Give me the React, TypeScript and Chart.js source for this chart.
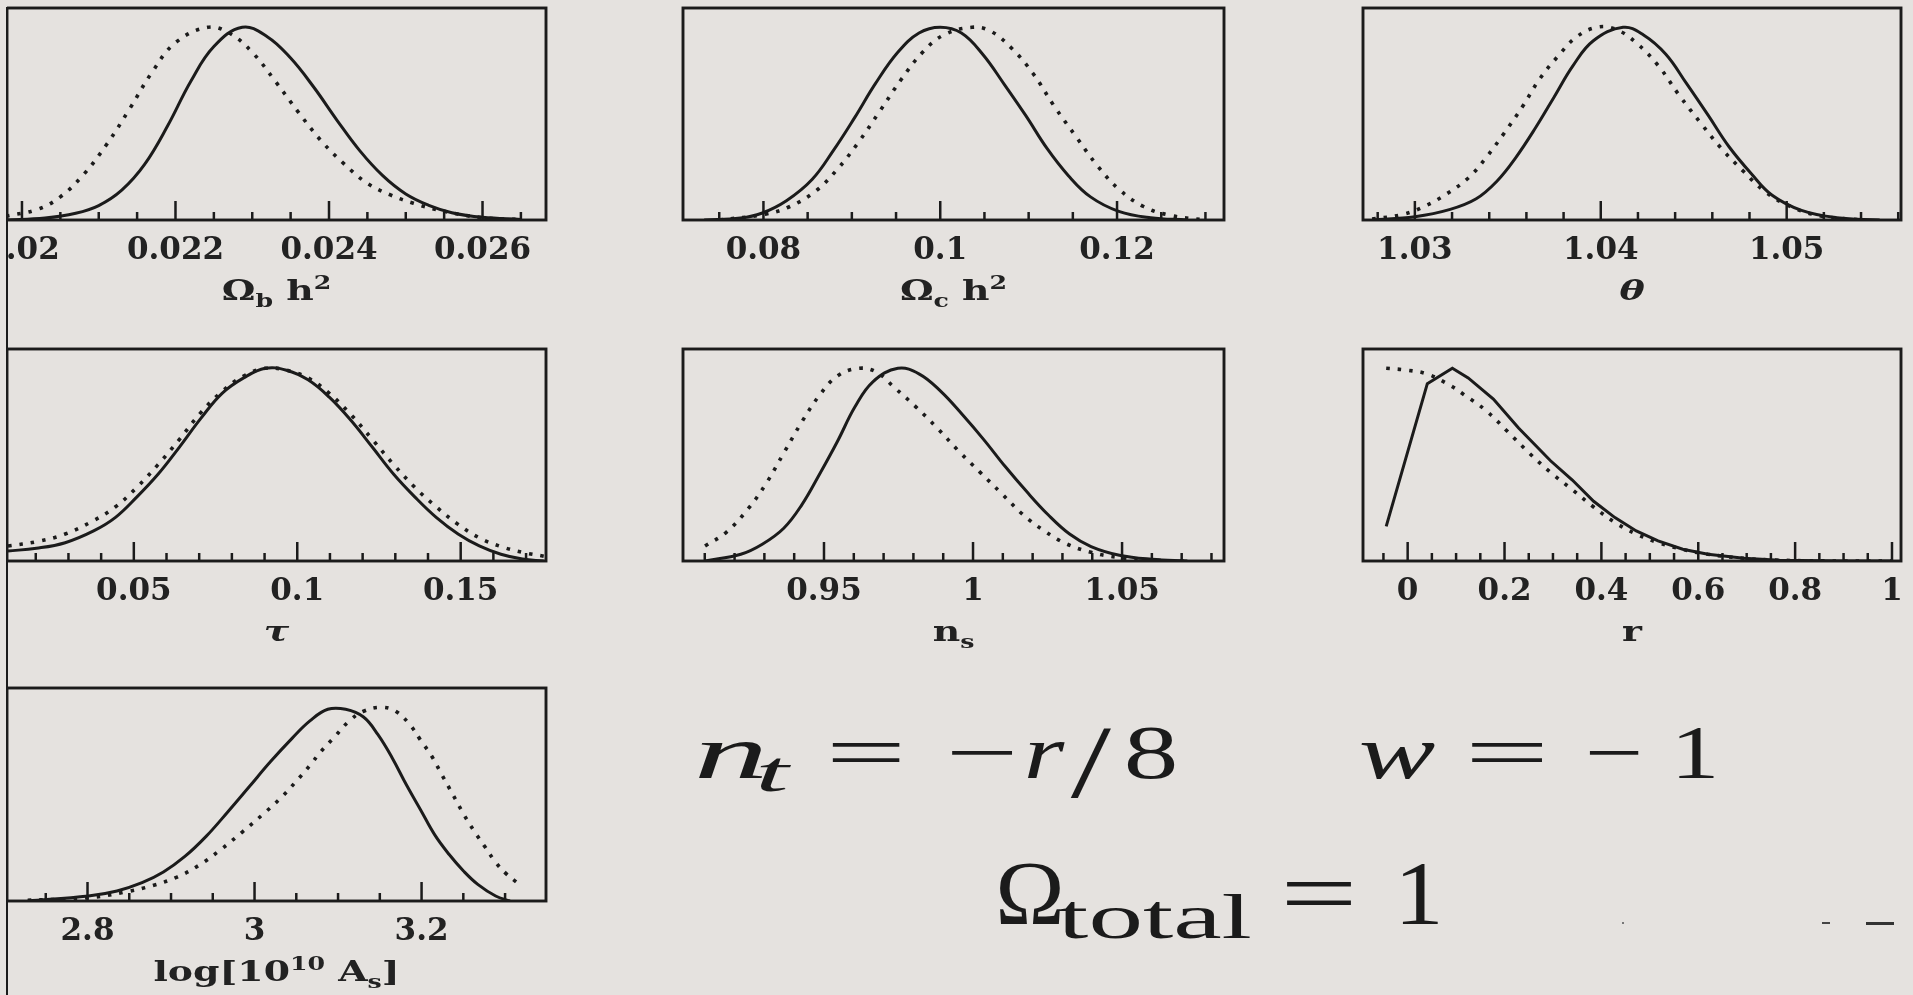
import React, { useEffect, useRef } from "react";
import { Chart, registerables } from "chart.js";

Chart.register(...registerables);

const INK = "#1b1b1b";
const LABEL_INK = "#222222";
const PAPER = "rgb(229,226,223)";

// ---------- Ω_b h² ----------
const baryonSolidX = [0.01979, 0.0203, 0.0207, 0.021, 0.0213, 0.0216, 0.0219, 0.0222, 0.0225, 0.02287, 0.0232, 0.0235, 0.0238, 0.0241, 0.0244, 0.0247, 0.025, 0.0253, 0.0256, 0.026, 0.0265];
const baryonSolidY = [0, 0.01, 0.035, 0.075, 0.155, 0.29, 0.49, 0.72, 0.9, 1.0, 0.95, 0.84, 0.69, 0.52, 0.36, 0.23, 0.135, 0.076, 0.038, 0.014, 0.003];
const baryonDottedX = [0.01979, 0.0202, 0.0205, 0.0208, 0.0211, 0.0214, 0.0217, 0.022, 0.02242, 0.0227, 0.023, 0.0233, 0.0236, 0.0239, 0.0242, 0.0245, 0.0248, 0.0251, 0.0255, 0.026, 0.0265];
const baryonDottedY = [0.02, 0.055, 0.12, 0.235, 0.39, 0.575, 0.77, 0.92, 1.0, 0.97, 0.87, 0.72, 0.56, 0.41, 0.29, 0.19, 0.13, 0.087, 0.045, 0.012, 0.002];
const baryonTicks = [0.02, 0.022, 0.024, 0.026];
const baryonLabels = ["0.02", "0.022", "0.024", "0.026"];

// ---------- Ω_c h² ----------
const cdmSolidX = [0.0733, 0.0774, 0.0798, 0.0826, 0.0855, 0.0879, 0.0903, 0.0927, 0.0952, 0.0976, 0.1, 0.1024, 0.1048, 0.1073, 0.1097, 0.1121, 0.1145, 0.117, 0.1202, 0.1238, 0.1279];
const cdmSolidY = [0, 0.01, 0.035, 0.1, 0.21, 0.36, 0.53, 0.71, 0.87, 0.97, 1.0, 0.97, 0.86, 0.7, 0.54, 0.37, 0.23, 0.12, 0.045, 0.012, 0];
const cdmDottedX = [0.075, 0.0802, 0.083, 0.0859, 0.0883, 0.0907, 0.0931, 0.0956, 0.098, 0.1004, 0.1036, 0.1057, 0.1081, 0.1105, 0.1129, 0.1154, 0.1178, 0.1202, 0.123, 0.1259, 0.1299];
const cdmDottedY = [0, 0.03, 0.07, 0.15, 0.26, 0.4, 0.56, 0.73, 0.87, 0.96, 1.0, 0.98, 0.89, 0.76, 0.59, 0.43, 0.28, 0.16, 0.07, 0.025, 0];
const cdmTicks = [0.08, 0.1, 0.12];
const cdmLabels = ["0.08", "0.1", "0.12"];

// ---------- θ ----------
const thetaSolidX = [1.0277, 1.03, 1.0319, 1.0333, 1.0344, 1.0354, 1.0365, 1.0375, 1.0385, 1.0396, 1.0412, 1.0423, 1.0435, 1.0446, 1.0458, 1.0469, 1.0481, 1.0492, 1.0508, 1.0527, 1.055];
const thetaSolidY = [0, 0.017, 0.055, 0.11, 0.2, 0.32, 0.48, 0.64, 0.8, 0.93, 1.0, 0.96, 0.86, 0.71, 0.54, 0.38, 0.24, 0.13, 0.05, 0.012, 0];
const thetaDottedX = [1.0277, 1.0294, 1.0306, 1.0317, 1.0329, 1.0338, 1.0348, 1.0358, 1.0367, 1.0377, 1.0387, 1.0398, 1.0408, 1.0419, 1.0431, 1.0442, 1.0454, 1.0465, 1.0477, 1.0488, 1.0502, 1.0519, 1.0542];
const thetaDottedY = [0.005, 0.03, 0.075, 0.135, 0.22, 0.32, 0.45, 0.59, 0.73, 0.85, 0.95, 1.0, 0.99, 0.92, 0.8, 0.65, 0.5, 0.37, 0.25, 0.15, 0.07, 0.02, 0];
const thetaTicks = [1.03, 1.04, 1.05];
const thetaLabels = ["1.03", "1.04", "1.05"];

// ---------- τ ----------
const tauX = [0.0115, 0.0202, 0.029, 0.0377, 0.0443, 0.0508, 0.0574, 0.0639, 0.0705, 0.077, 0.0836, 0.0902, 0.0967, 0.1033, 0.1098, 0.1164, 0.123, 0.1295, 0.1361, 0.1426, 0.1492, 0.1557, 0.1623, 0.1689, 0.1754];
const tauSolidY = [0.052, 0.066, 0.095, 0.156, 0.225, 0.33, 0.45, 0.59, 0.74, 0.87, 0.95, 1.0, 0.99, 0.94, 0.85, 0.73, 0.59, 0.45, 0.33, 0.225, 0.14, 0.078, 0.035, 0.01, 0];
const tauDottedY = [0.078, 0.1, 0.14, 0.21, 0.28, 0.38, 0.5, 0.63, 0.77, 0.88, 0.96, 1.0, 0.99, 0.95, 0.87, 0.76, 0.63, 0.5, 0.38, 0.28, 0.19, 0.12, 0.075, 0.045, 0.025];
const tauTicks = [0.05, 0.1, 0.15];
const tauLabels = ["0.05", "0.1", "0.15"];

// ---------- n_s ----------
const nsSolidX = [0.9101, 0.9221, 0.9293, 0.9365, 0.9425, 0.9485, 0.9545, 0.9604, 0.9664, 0.9748, 0.982, 0.9892, 0.9964, 1.0036, 1.0108, 1.018, 1.0252, 1.0324, 1.0396, 1.0491, 1.0599, 1.0719];
const nsSolidY = [0, 0.035, 0.087, 0.17, 0.29, 0.45, 0.62, 0.8, 0.93, 1.0, 0.97, 0.88, 0.76, 0.63, 0.49, 0.36, 0.24, 0.14, 0.075, 0.03, 0.009, 0];
const nsDottedX = [0.9101, 0.9173, 0.9245, 0.9305, 0.9365, 0.9425, 0.9485, 0.9545, 0.9616, 0.9676, 0.9736, 0.9808, 0.988, 0.9952, 1.0024, 1.0096, 1.0168, 1.024, 1.0312, 1.0396, 1.0491, 1.0611, 1.0719];
const nsDottedY = [0.078, 0.15, 0.27, 0.4, 0.56, 0.72, 0.86, 0.96, 1.0, 0.98, 0.9, 0.8, 0.69, 0.57, 0.46, 0.35, 0.24, 0.155, 0.09, 0.045, 0.018, 0.004, 0];
const nsTicks = [0.95, 1.0, 1.05];
const nsLabels = ["0.95", "1", "1.05"];

// ---------- r ----------
const rSolidX = [-0.0443, 0.0406, 0.0923, 0.125, 0.177, 0.229, 0.295, 0.34, 0.384, 0.428, 0.472, 0.517, 0.568, 0.62, 0.694, 0.768, 0.9, 1.0];
const rSolidY = [0.18, 0.92, 1.0, 0.95, 0.84, 0.69, 0.52, 0.42, 0.31, 0.225, 0.156, 0.104, 0.061, 0.035, 0.014, 0.004, 0, 0];
const rDottedX = [-0.0443, 0.0, 0.0406, 0.0886, 0.118, 0.162, 0.207, 0.251, 0.295, 0.34, 0.384, 0.428, 0.472, 0.517, 0.568, 0.62, 0.694, 0.768, 0.9, 1.0];
const rDottedY = [1.0, 0.99, 0.97, 0.91, 0.86, 0.78, 0.67, 0.56, 0.46, 0.37, 0.28, 0.2, 0.14, 0.095, 0.06, 0.035, 0.014, 0.004, 0, 0];
const rTicks = [0, 0.2, 0.4, 0.6, 0.8, 1.0];
const rLabels = ["0", "0.2", "0.4", "0.6", "0.8", "1"];

// ---------- log[10^10 A_s] ----------
const asSolidX = [2.7284, 2.8011, 2.8353, 2.8653, 2.8909, 2.9166, 2.9423, 2.9679, 2.9936, 3.0192, 3.0449, 3.0663, 3.0877, 3.1091, 3.1305, 3.1476, 3.1647, 3.1818, 3.1989, 3.216, 3.2331, 3.2502, 3.2673, 3.2887, 3.3058];
const asSolidY = [0, 0.026, 0.052, 0.095, 0.15, 0.23, 0.335, 0.46, 0.59, 0.72, 0.84, 0.93, 0.99, 0.99, 0.95, 0.86, 0.74, 0.6, 0.47, 0.34, 0.24, 0.155, 0.086, 0.026, 0];
const asDottedX = [2.7284, 2.8011, 2.8439, 2.8781, 2.908, 2.9337, 2.9594, 2.985, 3.0107, 3.0321, 3.0492, 3.0663, 3.0791, 3.0963, 3.1134, 3.1305, 3.1519, 3.169, 3.1861, 3.1989, 3.2118, 3.2246, 3.2374, 3.2502, 3.2631, 3.2759, 3.2887, 3.3015, 3.3144];
const asDottedY = [0.004, 0.017, 0.045, 0.08, 0.125, 0.185, 0.265, 0.355, 0.45, 0.535, 0.615, 0.7, 0.77, 0.85, 0.93, 0.98, 1.0, 0.98, 0.91, 0.83, 0.75, 0.65, 0.55, 0.45, 0.36, 0.28, 0.2, 0.14, 0.095];
const asTicks = [2.8, 3.0, 3.2];
const asLabels = ["2.8", "3", "3.2"];

// ---------- axis titles (segments: plain / subscript / superscript) ----------
type Seg = { t: string; k?: "sub" | "sup"; it?: boolean };
const baryonTitle: Seg[] = [{ t: "Ω" }, { t: "b", k: "sub" }, { t: " h" }, { t: "2", k: "sup" }];
const cdmTitle: Seg[] = [{ t: "Ω" }, { t: "c", k: "sub" }, { t: " h" }, { t: "2", k: "sup" }];
const thetaTitle: Seg[] = [{ t: "θ", it: true }];
const tauTitle: Seg[] = [{ t: "τ", it: true }];
const nsTitle: Seg[] = [{ t: "n" }, { t: "s", k: "sub" }];
const rTitle: Seg[] = [{ t: "r" }];
const asTitle: Seg[] = [{ t: "log[10" }, { t: "10", k: "sup" }, { t: " A" }, { t: "s", k: "sub" }, { t: "]" }];

// ---------- model assumptions written beside the panels ----------
// left edge, baseline, font size and drawn width of each piece
type Tok = { t: string; left: number; base: number; size: number; w: number; it?: boolean };
const assumptionTokens: Tok[] = [
  { t: "n", left: 696, base: 778, size: 76, w: 70, it: true },
  { t: "t", left: 757, base: 791, size: 56, w: 30, it: true },
  { t: "=", left: 828, base: 778, size: 76, w: 76 },
  { t: "−", left: 948, base: 778, size: 76, w: 68 },
  { t: "r", left: 1026, base: 778, size: 76, w: 36, it: true },
  { t: "/", left: 1074, base: 797, size: 104, w: 34 },
  { t: "8", left: 1126, base: 778, size: 76, w: 50 },
  { t: "w", left: 1361, base: 778, size: 76, w: 72, it: true },
  { t: "=", left: 1467, base: 778, size: 76, w: 80 },
  { t: "−", left: 1587, base: 778, size: 76, w: 54 },
  { t: "1", left: 1673, base: 778, size: 76, w: 44 },
  { t: "Ω", left: 998, base: 924, size: 90, w: 64 },
  { t: "total", left: 1060, base: 938, size: 64, w: 190 },
  { t: "=", left: 1283, base: 924, size: 90, w: 72 },
  { t: "1", left: 1397, base: 924, size: 90, w: 44 },
];
const MATH_FAMILY = "'Liberation Serif', 'Times New Roman', Times, serif";

// ---------- panel layout ----------
interface PanelSpec {
  left: number;
  top: number;
  width: number;
  height: number;
  xMin: number;
  xMax: number;
  majorTicks: number[];
  tickLabels: string[];
  minorStep: number;
  solid: [number[], number[]];
  dotted: [number[], number[]];
  straight?: boolean;
  title: Seg[];
}

const ROW_TOPS = [8, 349, 688];
const PANEL_H = 212;

const panels: PanelSpec[] = [
  { left: 7, top: ROW_TOPS[0], width: 539, height: PANEL_H, xMin: 0.019805, xMax: 0.026827, majorTicks: baryonTicks, tickLabels: baryonLabels, minorStep: 0.0005, solid: [baryonSolidX, baryonSolidY], dotted: [baryonDottedX, baryonDottedY], title: baryonTitle },
  { left: 683, top: ROW_TOPS[0], width: 541, height: PANEL_H, xMin: 0.0709, xMax: 0.1321, majorTicks: cdmTicks, tickLabels: cdmLabels, minorStep: 0.005, solid: [cdmSolidX, cdmSolidY], dotted: [cdmDottedX, cdmDottedY], title: cdmTitle },
  { left: 1363, top: ROW_TOPS[0], width: 538, height: PANEL_H, xMin: 1.02721, xMax: 1.05615, majorTicks: thetaTicks, tickLabels: thetaLabels, minorStep: 0.002, solid: [thetaSolidX, thetaSolidY], dotted: [thetaDottedX, thetaDottedY], title: thetaTitle },
  { left: 7, top: ROW_TOPS[1], width: 539, height: PANEL_H, xMin: 0.0112, xMax: 0.1761, majorTicks: tauTicks, tickLabels: tauLabels, minorStep: 0.01, solid: [tauX, tauSolidY], dotted: [tauX, tauDottedY], title: tauTitle },
  { left: 683, top: ROW_TOPS[1], width: 541, height: PANEL_H, xMin: 0.9027, xMax: 1.0842, majorTicks: nsTicks, tickLabels: nsLabels, minorStep: 0.01, solid: [nsSolidX, nsSolidY], dotted: [nsDottedX, nsDottedY], title: nsTitle },
  { left: 1363, top: ROW_TOPS[1], width: 538, height: PANEL_H, xMin: -0.0922, xMax: 1.0186, majorTicks: rTicks, tickLabels: rLabels, minorStep: 0.05, solid: [rSolidX, rSolidY], dotted: [rDottedX, rDottedY], straight: true, title: rTitle },
  { left: 7, top: ROW_TOPS[2], width: 539, height: PANEL_H + 1, xMin: 2.7036, xMax: 3.349, majorTicks: asTicks, tickLabels: asLabels, minorStep: 0.05, solid: [asSolidX, asSolidY], dotted: [asDottedX, asDottedY], title: asTitle },
];

const PAD_L = 70;
const PAD_R = 70;
const PAD_T = 10;
const AXIS_H = 115;
const CLIP_X = 7; // the slide's left edge

const TITLE_SIZE = 27;
const TITLE_SMALL = 18;
const TITLE_STRETCH = 1.4;

function toPoints([xs, ys]: [number[], number[]]) {
  return xs.map((x, i) => ({ x, y: ys[i] }));
}

function framePlugin(spec: PanelSpec) {
  return {
    id: "panelFrame",
    afterDatasetsDraw(chart: any) {
      const { ctx, chartArea: a } = chart;
      const xs = chart.scales.x;
      ctx.save();
      ctx.strokeStyle = INK;
      ctx.lineCap = "butt";

      // inward tick marks along the bottom edge
      ctx.lineWidth = 2.5;
      const first = Math.ceil(spec.xMin / spec.minorStep - 1e-6);
      for (let k = first; k * spec.minorStep <= spec.xMax + 1e-9; k++) {
        const v = k * spec.minorStep;
        const major = spec.majorTicks.some((m) => Math.abs(m - v) < spec.minorStep * 0.01);
        const px = xs.getPixelForValue(v);
        ctx.beginPath();
        ctx.moveTo(px, a.bottom);
        ctx.lineTo(px, a.bottom - (major ? 19 : 8));
        ctx.stroke();
      }

      // box
      ctx.lineWidth = 2.9;
      ctx.strokeRect(a.left, a.top, a.right - a.left, a.bottom - a.top);

      // axis title
      const fontFor = (s: Seg) =>
        `${s.it ? "italic " : ""}bold ${s.k ? TITLE_SMALL : TITLE_SIZE}px "DejaVu Serif"`;
      let total = 0;
      const widths = spec.title.map((s) => {
        ctx.font = fontFor(s);
        const w = ctx.measureText(s.t).width;
        total += w;
        return w;
      });
      const cx = (a.left + a.right) / 2;
      const base = a.bottom + 80;
      ctx.translate(cx, base);
      ctx.scale(TITLE_STRETCH, 1);
      ctx.fillStyle = LABEL_INK;
      ctx.textAlign = "left";
      ctx.textBaseline = "alphabetic";
      let x = -total / 2;
      spec.title.forEach((s, i) => {
        ctx.font = fontFor(s);
        const dy = s.k === "sub" ? 7 : s.k === "sup" ? -11 : 0;
        ctx.fillText(s.t, x, dy);
        x += widths[i];
      });
      ctx.restore();
    },
  };
}

function Panel({ spec }: { spec: PanelSpec }) {
  const ref = useRef<HTMLCanvasElement>(null);
  const cw = spec.width + PAD_L + PAD_R;
  const ch = spec.height + PAD_T + AXIS_H;

  useEffect(() => {
    const canvas = ref.current;
    if (!canvas) return;
    const chart = new Chart(canvas, {
      type: "line",
      data: {
        datasets: [
          {
            data: toPoints(spec.dotted),
            borderColor: INK,
            borderWidth: 3.6,
            borderDash: [3.5, 8],
            pointRadius: 0,
            tension: 0.4,
            fill: false,
          },
          {
            data: toPoints(spec.solid),
            borderColor: INK,
            borderWidth: 3,
            pointRadius: 0,
            tension: spec.straight ? 0 : 0.4,
            fill: false,
          },
        ],
      },
      options: {
        animation: false,
        responsive: false,
        events: [],
        devicePixelRatio: 1,
        layout: { padding: { left: PAD_L, right: PAD_R, top: PAD_T, bottom: 0 } },
        plugins: { legend: { display: false }, tooltip: { enabled: false } },
        scales: {
          x: {
            type: "linear",
            min: spec.xMin,
            max: spec.xMax,
            bounds: "data",
            afterBuildTicks: (s: any) => {
              s.ticks = spec.majorTicks.map((v) => ({ value: v }));
            },
            afterFit: (s: any) => {
              s.height = AXIS_H;
              s.paddingLeft = 0;
              s.paddingRight = 0;
            },
            ticks: {
              autoSkip: false,
              maxRotation: 0,
              minRotation: 0,
              padding: 12,
              color: LABEL_INK,
              font: { family: "DejaVu Serif", weight: "bold", size: 31 },
              callback: (_v: any, i: number) => spec.tickLabels[i],
            },
            grid: { display: false, drawTicks: false },
            border: { display: false },
          },
          y: { type: "linear", min: 0, max: 1.1, display: false },
        },
      } as any,
      plugins: [framePlugin(spec)],
    });
    return () => chart.destroy();
  }, [spec]);

  return (
    <canvas
      ref={ref}
      width={cw}
      height={ch}
      style={{
        position: "absolute",
        left: spec.left - PAD_L - CLIP_X,
        top: spec.top - PAD_T,
        width: cw,
        height: ch,
      }}
    />
  );
}

function Assumptions() {
  return (
    <svg
      width={1913}
      height={995}
      style={{ position: "absolute", left: 0, top: 0, pointerEvents: "none" }}
    >
      {assumptionTokens.map((tk, i) => (
        <text
          key={i}
          x={tk.left - tk.size * 0.03}
          y={tk.base}
          fontSize={tk.size}
          fontFamily={MATH_FAMILY}
          fontStyle={tk.it ? "italic" : "normal"}
          fill={INK}
          textLength={tk.w + tk.size * 0.06}
          lengthAdjust="spacingAndGlyphs"
        >
          {tk.t}
        </text>
      ))}
    </svg>
  );
}

export default function App() {
  return (
    <div
      style={{
        position: "fixed",
        left: 0,
        top: 0,
        width: 1913,
        height: 995,
        background: PAPER,
        overflow: "hidden",
      }}
    >
      <div style={{ position: "absolute", left: CLIP_X, top: 0, right: 0, bottom: 0, overflow: "hidden" }}>
        {panels.map((p, i) => (
          <Panel key={i} spec={p} />
        ))}
      </div>
      <Assumptions />
      <div style={{ position: "absolute", left: 5.8, top: 7, width: 2.6, height: 988, background: INK }} />
      <div style={{ position: "absolute", left: 1622, top: 922, width: 2, height: 2, background: "#777" }} />
      <div style={{ position: "absolute", left: 1822, top: 922, width: 8, height: 2, background: "#444" }} />
      <div style={{ position: "absolute", left: 1866, top: 922, width: 28, height: 2.5, background: "#333" }} />
    </div>
  );
}
